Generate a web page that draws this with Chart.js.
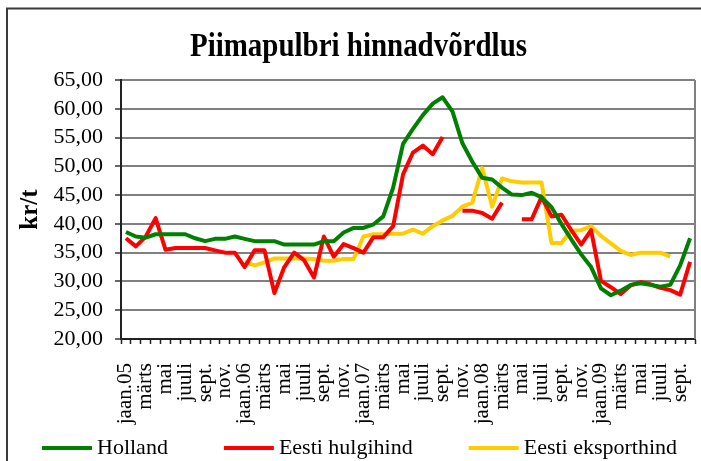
<!DOCTYPE html>
<html>
<head>
<meta charset="utf-8">
<script src="https://cdn.jsdelivr.net/npm/chart.js@4.4.0/dist/chart.umd.min.js"></script>
<style>
  html, body { margin: 0; padding: 0; background: #fff; }
  canvas { display: block; }
</style>
</head>
<body>
<canvas id="c" width="701" height="461"></canvas>
<script>
// ---- Data ----
const titleText = 'Piimapulbri hinnadvõrdlus';
const yTitle = 'kr/t';
const months = [
  'jaan.05','veebr.','märts','apr.','mai','juuni','juuli','aug.','sept.','okt.','nov.','dets.',
  'jaan.06','veebr.','märts','apr.','mai','juuni','juuli','aug.','sept.','okt.','nov.','dets.',
  'jaan.07','veebr.','märts','apr.','mai','juuni','juuli','aug.','sept.','okt.','nov.','dets.',
  'jaan.08','veebr.','märts','apr.','mai','juuni','juuli','aug.','sept.','okt.','nov.','dets.',
  'jaan.09','veebr.','märts','apr.','mai','juuni','juuli','aug.','sept.','okt.'
];
const seriesNames = ['Holland', 'Eesti hulgihind', 'Eesti eksporthind'];
const holland = [
  38.6, 37.8, 37.6, 38.2, 38.2, 38.2, 38.2, 37.5, 37.0, 37.4,
  37.4, 37.8, 37.4, 37.0, 37.0, 37.0, 36.4, 36.4, 36.4, 36.4,
  37.0, 37.0, 38.5, 39.3, 39.3, 39.9, 41.3, 46.3, 53.9, 56.5,
  58.9, 60.9, 62.0, 59.5, 54.0, 50.8, 48.0, 47.7, 46.3, 45.1,
  45.0, 45.4, 44.6, 42.9, 40.0, 37.3, 34.7, 32.5, 28.8, 27.6,
  28.4, 29.4, 29.7, 29.4, 29.1, 29.4, 32.8, 37.5
];
const hulgihind = [
  37.5, 36.1, 37.8, 41.0, 35.5, 35.8, 35.8, 35.8, 35.8, 35.4,
  35.0, 35.0, 32.5, 35.4, 35.4, 28.0, 32.5, 35.0, 33.7, 30.7,
  37.8, 34.3, 36.5, 35.8, 35.0, 37.7, 37.7, 39.6, 48.6, 52.4,
  53.6, 52.1, 55.1, null, 42.3, 42.3, 41.9, 40.9, 43.7, null,
  40.8, 40.8, 44.7, 41.3, 41.6, 38.9, 36.4, 38.9, 30.1, 29.0,
  27.8, 29.3, 29.9, 29.5, 28.9, 28.5, 27.7, 33.4
];
const eksporthind = [
  null, null, null, null, null, null, null, null, null, null,
  null, null, 33.4, 32.8, 33.3, 34.0, 34.0, 34.0, 34.0, 33.9,
  33.6, 33.6, 33.9, 33.9, 37.8, 38.2, 38.2, 38.3, 38.3, 39.0,
  38.3, 39.6, 40.6, 41.4, 43.0, 43.7, 49.7, 43.0, 47.9, 47.4,
  47.2, 47.2, 47.2, 36.7, 36.7, 38.8, 38.9, 39.6, 37.9, 36.6,
  35.3, 34.6, 35.0, 35.0, 35.0, 34.3, null, null
];
const yMin = 20, yMax = 65, yStep = 5;
const colors = ['#008000', '#ff0000', '#ffcc00'];

// ---- Plugins ----
const SERIF = '"Liberation Serif", "Times New Roman", serif';

const framePlugin = {
  id: 'frame',
  beforeDraw(chart) {
    const ctx = chart.ctx;
    ctx.save();
    ctx.fillStyle = '#fff';
    ctx.fillRect(0, 0, chart.width, chart.height);
    ctx.strokeStyle = '#3a3a3a';
    ctx.lineWidth = 2;
    ctx.strokeRect(7, 8.5, chart.width + 20, chart.height + 20);
    ctx.restore();
  },
  beforeDatasetsDraw(chart) {
    const ctx = chart.ctx, a = chart.chartArea;
    ctx.save();
    ctx.strokeStyle = '#808080';
    ctx.lineWidth = 2;
    ctx.beginPath();
    ctx.moveTo(a.right, a.top);
    ctx.lineTo(a.right, a.bottom);
    ctx.stroke();
    ctx.restore();
  },
  afterDraw(chart) {
    const ctx = chart.ctx;
    // Title (condensed bold serif)
    ctx.save();
    ctx.font = 'bold 34px ' + SERIF;
    ctx.fillStyle = '#000';
    ctx.textBaseline = 'alphabetic';
    ctx.textAlign = 'left';
    const w = ctx.measureText(titleText).width;
    const targetW = 337;
    const sx = targetW / w;
    ctx.translate(190, 56);
    ctx.scale(sx, 1);
    ctx.fillText(titleText, 0, 0);
    ctx.restore();

    // Legend
    ctx.save();
    ctx.font = '22px ' + SERIF;
    ctx.textBaseline = 'middle';
    ctx.textAlign = 'left';
    let x = 42;
    const y = 448;
    chart.data.datasets.forEach(ds => {
      ctx.strokeStyle = ds.borderColor;
      ctx.lineWidth = 4;
      ctx.beginPath();
      ctx.moveTo(x, y);
      ctx.lineTo(x + 50, y);
      ctx.stroke();
      ctx.fillStyle = '#000';
      ctx.fillText(ds.label, x + 55, y);
      x += 55 + ctx.measureText(ds.label).width + 56;
    });
    ctx.restore();
  }
};

const ds = (label, data, color) => ({
  label, data,
  borderColor: color,
  backgroundColor: color,
  borderWidth: 4,
  pointRadius: 0,
  tension: 0,
  spanGaps: false,
  fill: false,
  borderJoinStyle: 'round',
  borderCapStyle: 'butt'
});

new Chart(document.getElementById('c'), {
  type: 'line',
  data: {
    labels: months,
    datasets: [
      ds(seriesNames[0], holland, colors[0]),
      ds(seriesNames[1], hulgihind, colors[1]),
      ds(seriesNames[2], eksporthind, colors[2])
    ]
  },
  options: {
    responsive: false,
    animation: false,
    devicePixelRatio: 1,
    layout: { padding: { top: 80, right: 6, bottom: 0, left: 0 } },
    plugins: {
      legend: { display: false },
      title: { display: false },
      tooltip: { enabled: false }
    },
    scales: {
      x: {
        type: 'category',
        offset: true,
        grid: {
          offset: true,
          drawOnChartArea: false,
          drawTicks: true,
          tickLength: 5,
          tickColor: '#222',
          tickWidth: 1.5
        },
        border: { color: '#222', width: 2 },
        ticks: {
          autoSkip: false,
          minRotation: 90,
          maxRotation: 90,
          padding: 19,
          color: '#000',
          font: { family: SERIF, size: 21 },
          callback: function (value, index) { return index % 2 === 0 ? months[index] : ''; }
        },
        afterFit(scale) {
          scale.height = 122;
          scale.paddingLeft = 0;
          scale.paddingRight = 0;
        }
      },
      y: {
        min: yMin,
        max: yMax,
        ticks: {
          stepSize: yStep,
          autoSkip: false,
          padding: 12,
          color: '#000',
          font: { family: SERIF, size: 22 },
          callback: v => v.toFixed(2).replace('.', ',')
        },
        grid: {
          color: '#808080',
          lineWidth: 2,
          tickLength: 6,
          tickColor: '#333',
          tickWidth: 1.5
        },
        border: { color: '#222', width: 2 },
        title: {
          display: true,
          text: yTitle,
          color: '#000',
          font: { family: SERIF, size: 25, weight: 'bold' },
          padding: { top: 16, bottom: 0 }
        },
        afterFit(scale) {
          scale.width = 121;
          scale.paddingTop = 0;
          scale.paddingBottom = 0;
        }
      }
    }
  },
  plugins: [framePlugin]
});
</script>
</body>
</html>
